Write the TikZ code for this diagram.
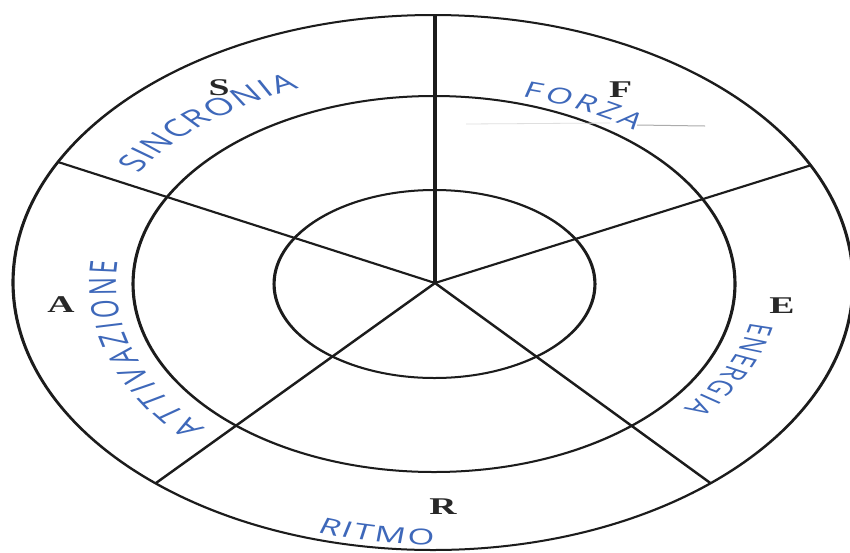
\documentclass[tikz,border=0pt]{standalone}
\usepackage{fontspec}
\setmainfont{Liberation Serif}
\newfontfamily\hw{Open Sans}
\usetikzlibrary{decorations.text}
\definecolor{ink}{RGB}{28,28,28}
\definecolor{pen}{RGB}{62,104,186}
\definecolor{lett}{RGB}{40,40,40}
\tikzset{
  ring/.style={draw=ink, line width=2pt},
  spoke/.style={draw=ink, line width=2pt},
  letter/.style={inner sep=0pt, text=lett, font=\fontsize{24}{24}\selectfont\bfseries},
  handtext/.style={decorate, decoration={text along path, text={#1}, text align={fit to path}, text color=pen}}
}
\begin{document}
\begin{tikzpicture}[x=1pt,y=-1pt]
\useasboundingbox (0,0) rectangle (850,552);
\fill[white] (0,0) rectangle (850,552);
\begin{scope}[transform canvas={xscale=1.57}, x=0.636943pt, y=-1pt]
  % rings
  \draw[ring] (433,282.5) ellipse [x radius=267.5pt, y radius=267.5pt];
  \draw[ring] (434,284) ellipse [x radius=191.7pt, y radius=188pt];
  \draw[ring] (434.5,284) ellipse [x radius=102.2pt, y radius=94pt];
  % spokes
  \coordinate (O) at (435,283);
  \coordinate (pT) at (435,15);
  \coordinate (pUR) at (810,165.5);
  \coordinate (pLR) at (711,483.5);
  \coordinate (pLL) at (156,483);
  \coordinate (pUL) at (58,162);
  \foreach \p in {pT,pUR,pLR,pLL,pUL} \draw[spoke] (O) -- (\p);
  % stray marks
  \draw[gray!25, line width=0.8pt] (466,124) -- (610,123);
  \draw[gray!65, line width=1pt] (637,125) -- (705,126);
  % printed letters
  \node[letter] (S) at (219,88) {S};
  \node[letter] (F) at (620.5,90) {F};
  \node[letter] (E) at (782,306) {E};
  \node[letter] (A) at (61,304.5) {A};
  \node[letter] (R) at (443,507) {R};
  % handwritten labels
  \path[handtext={|\hw\fontsize{24}{24}\selectfont|SINCRONIA}]
    plot[domain=0:1, samples=40, variable=\u] ({434+345*cos(211+36*\u)}, {283+212*sin(211+36*\u)});
  \path[handtext={|\hw\fontsize{22}{22}\selectfont|FORZA}]
    plot[domain=0:1, samples=40, variable=\u] ({434+328*cos(285.5+22*\u)}, {283+193*sin(285.5+22*\u)});
  \path[handtext={|\hw\fontsize{21}{21}\selectfont|ENERGIA}]
    plot[domain=0:1, samples=40, variable=\u] ({434+323*cos(11.5+28*\u)}, {283+198*sin(11.5+28*\u)});
  \path[handtext={|\hw\fontsize{22}{22}\selectfont|RITMO}]
    plot[domain=0:1, samples=40, variable=\u] ({434+380*cos(108-18*\u)}, {283+262*sin(108-18*\u)});
  \path[handtext={|\hw\fontsize{24}{24}\selectfont|ATTIVAZIONE}]
    plot[domain=0:1, samples=40, variable=\u] ({434+318*cos(136+50*\u)}, {283+210*sin(136+50*\u)});
\end{scope}
\end{tikzpicture}
\end{document}
